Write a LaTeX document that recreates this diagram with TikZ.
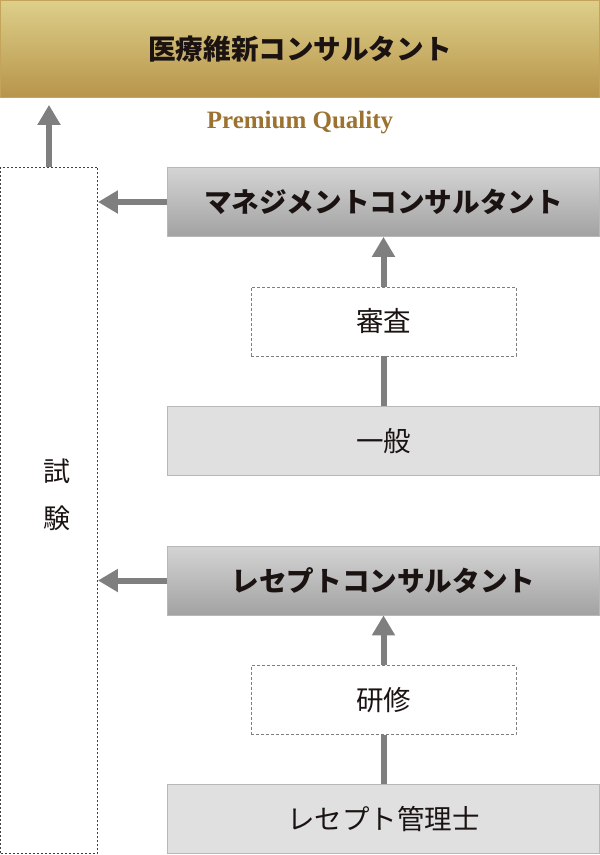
\documentclass[tikz,border=0pt]{standalone}
\usepackage{fontspec}
\usetikzlibrary{arrows.meta}
\newfontfamily\jpfont{Noto Sans CJK JP}
\newfontfamily\premfont{Liberation Serif}
\definecolor{goldtop}{HTML}{DDCF8A}
\definecolor{goldbot}{HTML}{B8944A}
\definecolor{goldedge}{HTML}{C4A45A}
\definecolor{premcol}{HTML}{9B7230}
\definecolor{arrgray}{HTML}{7F7F7F}
\definecolor{greytop}{HTML}{D4D4D4}
\definecolor{greybot}{HTML}{A2A2A2}
\definecolor{lightbox}{HTML}{E0E0E0}
\definecolor{boxedge}{HTML}{B8B8B8}
\definecolor{txt}{HTML}{1A1311}
\begin{document}
\begin{tikzpicture}[x=1pt,y=-1pt,
  goldbox/.style={rectangle, minimum width=599pt, minimum height=97pt, inner sep=0pt,
    top color=goldtop, bottom color=goldbot, draw=goldedge, line width=0.8pt,
    font=\jpfont\bfseries\fontsize{27.6}{30}\selectfont, text=txt},
  greybox/.style={rectangle, minimum width=432pt, minimum height=69pt, inner sep=0pt,
    top color=greytop, bottom color=greybot, draw=boxedge, line width=0.8pt,
    font=\jpfont\bfseries\fontsize{27.6}{30}\selectfont, text=txt},
  plainbox/.style={rectangle, minimum width=432pt, minimum height=69pt, inner sep=0pt,
    fill=lightbox, draw=boxedge, line width=0.8pt,
    font=\jpfont\fontsize{27.5}{30}\selectfont, text=txt},
  dashbox/.style={rectangle, minimum width=265pt, minimum height=69pt, inner sep=0pt,
    draw=arrgray, line width=0.9pt, dash pattern=on 3pt off 2pt,
    font=\jpfont\fontsize{27.5}{30}\selectfont, text=txt},
  sidebox/.style={rectangle, minimum width=97pt, minimum height=686pt, inner sep=0pt,
    draw=black!75, line width=0.9pt, dash pattern=on 2pt off 2pt},
  arr/.style={draw=arrgray, line width=6pt, -{Triangle[width=22pt,length=20pt]}},
  link/.style={draw=arrgray, line width=6pt}
]
\useasboundingbox (0,0) rectangle (600,855);

\node[goldbox] (top) at (300,49) {医療維新コンサルタント};
\node[font=\premfont\bfseries\fontsize{25}{28}\selectfont, text=premcol] (prem) at (300,123) {Premium Quality};

\node[sidebox] (side) at (49,510) {};
\node[font=\jpfont\fontsize{27}{47}\selectfont, text=txt, align=center] (shiken) at (57,495) {試\\験};

\node[greybox] (mgmt) at (383.5,202) {マネジメントコンサルタント};
\node[dashbox] (shinsa) at (383.5,321.5) {審査};
\node[plainbox] (ippan) at (383.5,441) {一般};

\node[greybox] (rcons) at (383.5,580.5) {レセプトコンサルタント};
\node[dashbox] (kenshu) at (383.5,700) {研修};
\node[plainbox] (rkanri) at (383.5,819) {レセプト管理士};

\draw[arr] (side.north) -- ([yshift=-7pt]top.south -| side.north);
\draw[arr] (mgmt.west) -- (side.east |- mgmt.west);
\draw[arr] (rcons.west) -- (side.east |- rcons.west);
\draw[arr] (shinsa.north) -- (mgmt.south);
\draw[link] (ippan.north) -- (shinsa.south);
\draw[arr] (kenshu.north) -- (rcons.south);
\draw[link] (rkanri.north) -- (kenshu.south);
\end{tikzpicture}
\end{document}
